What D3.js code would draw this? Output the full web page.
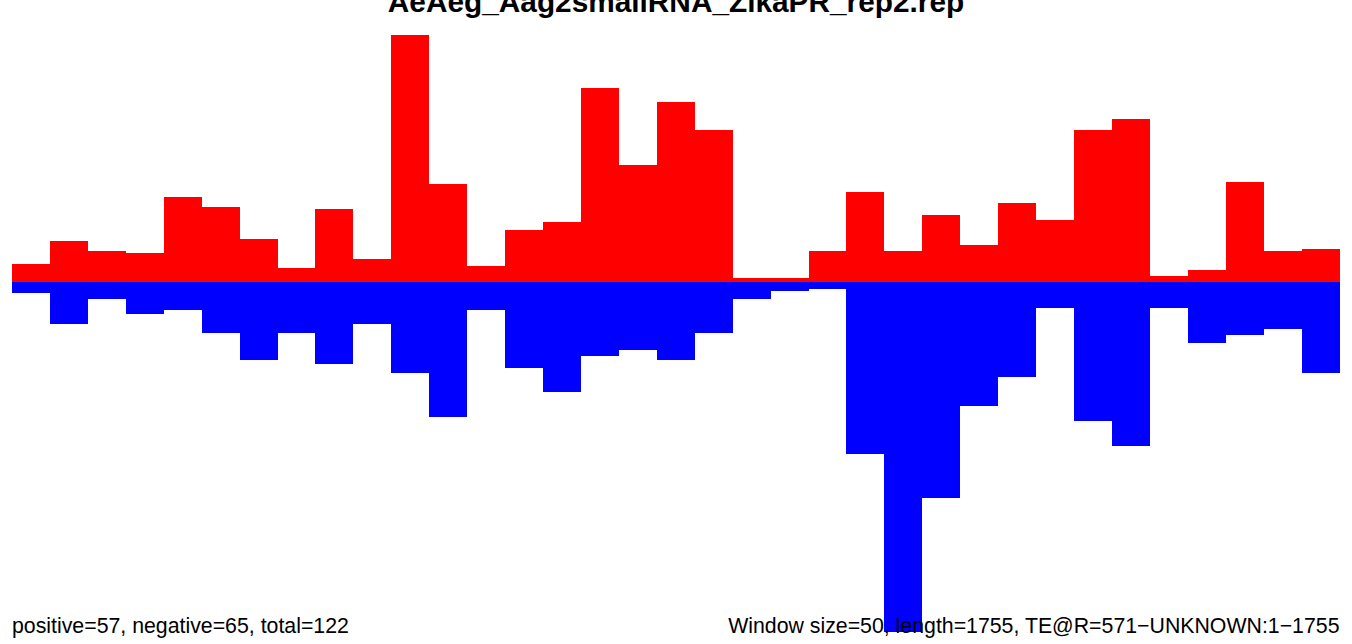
<!DOCTYPE html>
<html>
<head>
<meta charset="utf-8">
<script src="https://cdn.jsdelivr.net/npm/d3@7"></script>
<style>
  html, body { margin: 0; padding: 0; background: #fff; }
  svg { display: block; }
  text { font-family: "Liberation Sans", Arial, sans-serif; }
</style>
</head>
<body>
<div id="chart"></div>
<script>
// small RNA coverage in 50 nt windows, sense (+) above and antisense (-) below
const windowSize = 50;
const windowStarts = d3.range(0, 1750, windowSize);

const positive = [18, 41, 31, 29, 85, 75, 43, 14, 73, 23, 247, 98, 16, 52, 60, 194, 117, 180,
    152, 4, 4, 31, 90, 31, 67, 37, 79, 62, 152, 163, 6, 12, 100, 31, 33];
const negative = [11, 42, 17, 32, 28, 51, 78, 51, 82, 42, 91, 135, 28, 86, 110, 74, 68, 78,
    51, 17, 9, 7, 172, 350, 216, 124, 95, 26, 139, 164, 26, 61, 53, 47, 91];

const title = "AeAeg_Aag2smallRNA_ZikaPR_rep2.rep";
const leftNote = "positive=57, negative=65, total=122";
const rightNote = "Window size=50, length=1755, TE@R=571\u2212UNKNOWN:1\u22121755";

const params = { selector: "#chart", width: 1352, height: 644, left: 12, right: 1339.5, top: 35, bottom: 632 };

const setup = (params) => {
    return d3.select(params.selector)
        .append("svg")
        .attr("width", params.width)
        .attr("height", params.height);
}

const drawBars = (svg, params) => {
    const x = d3.scaleLinear()
        .domain([0, windowStarts[windowStarts.length - 1] + windowSize])
        .range([params.left, params.right]);
    const y = d3.scaleLinear()
        .domain([-d3.max(negative), d3.max(positive)])
        .range([params.bottom, params.top]);

    svg.append("g").selectAll("rect")
        .data(windowStarts)
        .join("rect")
        .attr("x", d => x(d))
        .attr("width", d => x(d + windowSize) - x(d))
        .attr("y", y(0))
        .attr("height", (d, i) => y(-negative[i]) - y(0))
        .attr("fill", "#0000ff")
        .attr("shape-rendering", "crispEdges");

    svg.append("g").selectAll("rect")
        .data(windowStarts)
        .join("rect")
        .attr("x", d => x(d))
        .attr("width", d => x(d + windowSize) - x(d))
        .attr("y", (d, i) => y(positive[i]))
        .attr("height", (d, i) => y(0) - y(positive[i]))
        .attr("fill", "#ff0000")
        .attr("shape-rendering", "crispEdges");
}

const drawText = (svg, params) => {
    // title sits partly above the page edge, as in the original
    svg.append("text")
        .text(title)
        .attr("x", params.width / 2)
        .attr("y", 12)
        .attr("text-anchor", "middle")
        .attr("font-size", 29.8)
        .attr("font-weight", "bold");

    svg.append("text")
        .text(leftNote)
        .attr("x", params.left)
        .attr("y", 633)
        .attr("font-size", 21.3);

    svg.append("text")
        .text(rightNote)
        .attr("x", params.right)
        .attr("y", 633)
        .attr("text-anchor", "end")
        .attr("font-size", 21.3);
}

const svg = setup(params);
drawBars(svg, params);
drawText(svg, params);
</script>
</body>
</html>
